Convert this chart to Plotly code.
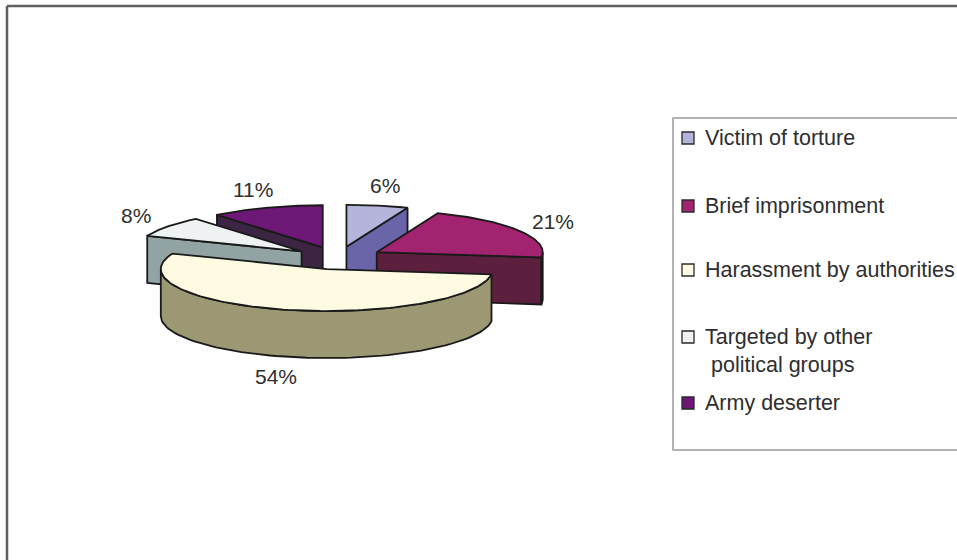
import numpy as np
import plotly.graph_objects as go

# Reasons for leaving, share of respondents (%)
categories = [
    "Victim of torture",
    "Brief imprisonment",
    "Harassment by authorities",
    "Targeted by other political groups",
    "Army deserter",
]
shares = [6, 21, 54, 8, 11]
legend_labels = [
    "Victim of torture",
    "Brief imprisonment",
    "Harassment by authorities",
    "Targeted by other<br>\u00a0political groups",
    "Army deserter",
]
top_colors = ["#B5B4DA", "#A2236F", "#FFFBE2", "#EEF2F3", "#6D1776"]
side_colors = ["#6A64A8", "#5C1F3E", "#9B9873", "#92A3A3", "#3B2542"]

# 3-D pie geometry (pixel space of the plot area)
CX, CY = 338, 258          # pie centre (top face)
RX, RY = 166, 42           # ellipse radii of the top face
DEPTH = 47                 # thickness of the pie
EXPLODE = 45               # explosion distance of every slice
LABEL_RX, LABEL_RY = 205, 63
EDGE = dict(color="#1a1a1a", width=1.8)
FONT = "Liberation Sans, Arial, sans-serif"

fig = go.Figure()


def poly(xs, ys, color):
    fig.add_trace(go.Scatter(
        x=list(xs) + [xs[0]], y=list(ys) + [ys[0]], mode="lines",
        fill="toself", fillcolor=color, line=EDGE,
        hoverinfo="skip", showlegend=False))


def rim(cx, cy, th):
    return cx + RX * np.sin(th), cy - RY * np.cos(th)


total = float(sum(shares))
bounds = np.concatenate([[0], np.cumsum(shares)]) / total * 2 * np.pi
slices = []
for i, v in enumerate(shares):
    t1, t2 = bounds[i], bounds[i + 1]
    mid = (t1 + t2) / 2
    ax = CX + EXPLODE * np.sin(mid)
    ay = CY - EXPLODE * np.cos(mid) * RY / RX
    slices.append((i, t1, t2, mid, ax, ay))

# paint slices from back to front
for i, t1, t2, mid, ax, ay in sorted(slices, key=lambda s: -np.cos(s[3])):
    # radial cut faces that face the viewer
    for th, normal in ((t1, t1 - np.pi / 2), (t2, t2 + np.pi / 2)):
        if np.cos(normal) < -1e-6:
            rx_, ry_ = rim(ax, ay, th)
            poly([ax, rx_, rx_, ax], [ay, ry_, ry_ + DEPTH, ay + DEPTH],
                 side_colors[i])
    # outer curved wall (front half only)
    lo, hi = max(t1, np.pi / 2), min(t2, 3 * np.pi / 2)
    if hi > lo:
        th = np.linspace(lo, hi, 80)
        wx, wy = rim(ax, ay, th)
        poly(np.concatenate([wx, wx[::-1]]),
             np.concatenate([wy, wy[::-1] + DEPTH]), side_colors[i])
    # top face
    th = np.linspace(t1, t2, 120)
    tx, ty = rim(ax, ay, th)
    poly(np.concatenate([[ax], tx]), np.concatenate([[ay], ty]), top_colors[i])

# percentage labels
annotations = []
for i, t1, t2, mid, ax, ay in slices:
    lx = ax + LABEL_RX * np.sin(mid)
    ly = ay - LABEL_RY * np.cos(mid) + 1 + DEPTH * max(0.0, -np.cos(mid))
    annotations.append(dict(
        x=lx, y=ly, xref="x", yref="y", text=f"{shares[i]}%",
        showarrow=False, xanchor="center", yanchor="middle",
        font=dict(family=FONT, size=21, color="#2e2e2e")))

# legend box, swatches and entries
shapes = [
    dict(type="rect", xref="x", yref="y", x0=673, y0=118, x1=975, y1=450,
         line=dict(color="#9a9a9a", width=1.5), fillcolor="rgba(0,0,0,0)"),
    # chart frame (top and left edges)
    dict(type="line", xref="x", yref="y", x0=7, y0=6, x1=970, y1=6,
         line=dict(color="#606060", width=2.5)),
    dict(type="line", xref="x", yref="y", x0=7, y0=6, x1=7, y1=570,
         line=dict(color="#606060", width=2.5)),
]
legend_y = [138, 206, 270, 337, 403]
for i, label in enumerate(legend_labels):
    sy = legend_y[i]
    shapes.append(dict(type="rect", xref="x", yref="y",
                       x0=682, y0=sy - 6, x1=694, y1=sy + 6,
                       fillcolor=top_colors[i],
                       line=dict(color="#2a2a2a", width=1.3)))
    nlines = label.count("<br>") + 1
    annotations.append(dict(
        x=703, y=sy + (nlines - 1) * 14, xref="x", yref="y", text=label,
        showarrow=False, xanchor="left", yanchor="middle", align="left",
        font=dict(family=FONT, size=21.5, color="#2e2e2e")))

fig.update_layout(
    width=957, height=560,
    margin=dict(l=0, r=0, t=0, b=0),
    paper_bgcolor="white", plot_bgcolor="white",
    xaxis=dict(range=[0, 957], visible=False, fixedrange=True),
    yaxis=dict(range=[560, 0], visible=False, fixedrange=True),
    shapes=shapes, annotations=annotations, showlegend=False,
)

fig.write_html("out.html")
